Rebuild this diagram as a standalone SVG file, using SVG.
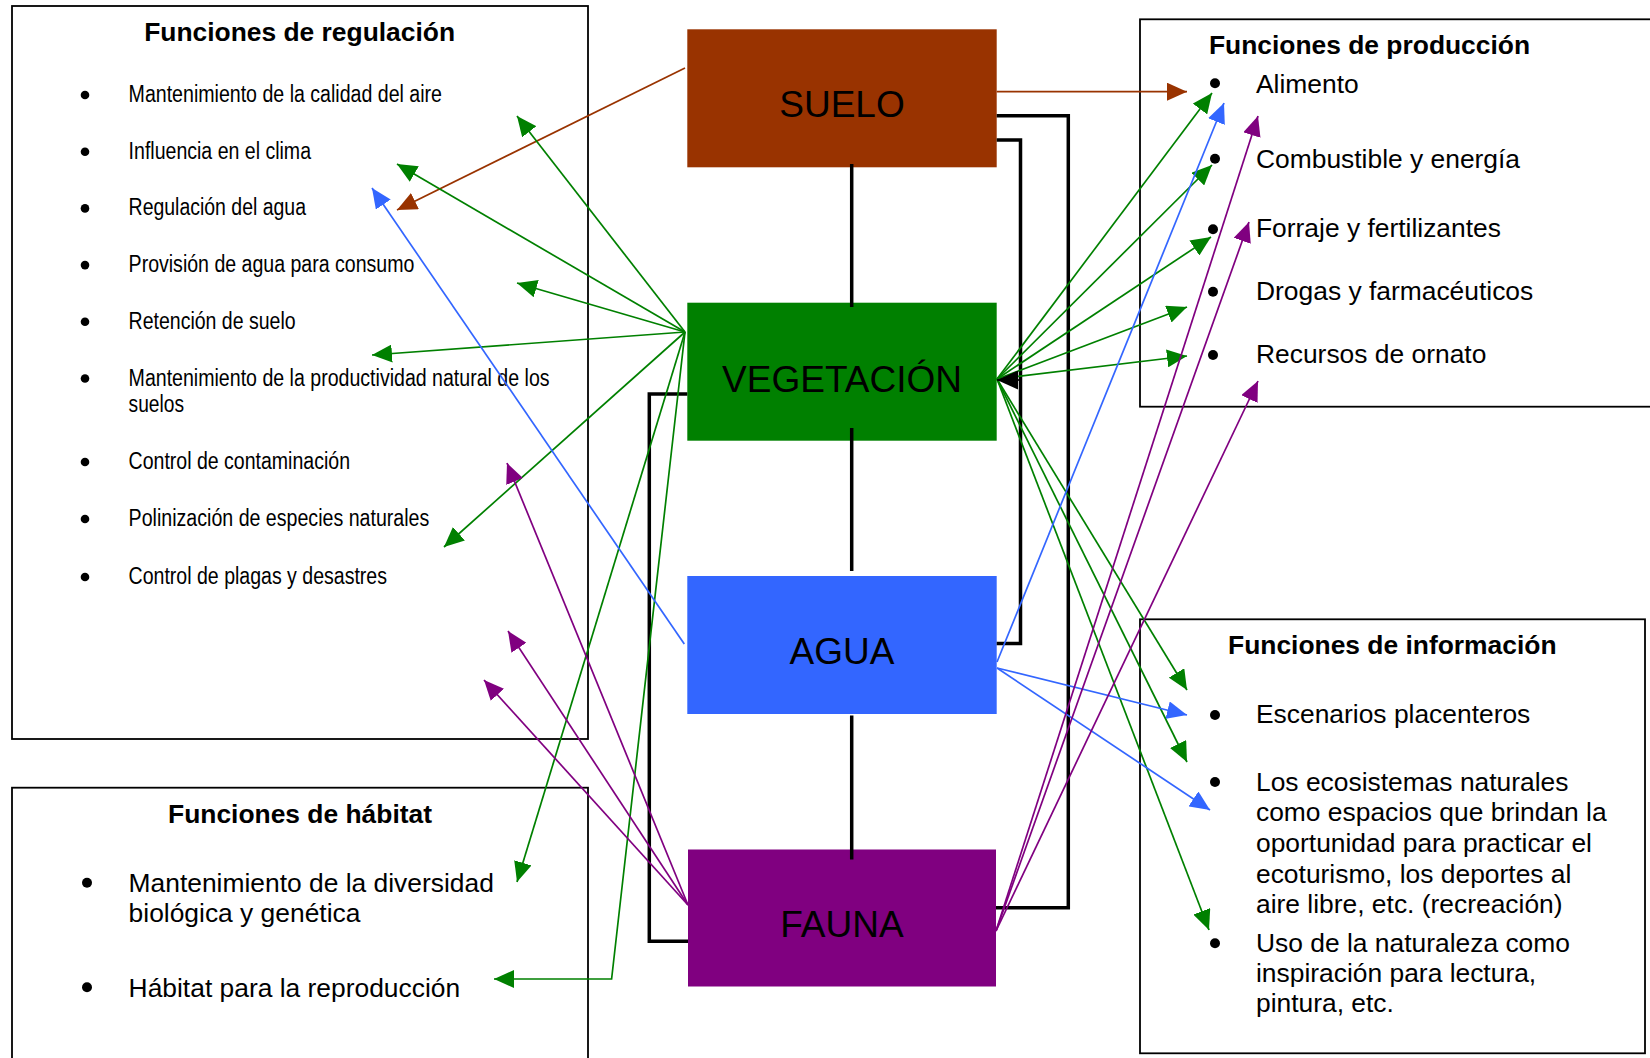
<svg xmlns="http://www.w3.org/2000/svg" width="1650" height="1058" viewBox="0 0 1650 1058">
<style>
.box{fill:#fff;stroke:#000;stroke-width:1.8}
.title{font-family:"Liberation Sans",Arial,sans-serif;font-weight:bold;font-size:26.4px;text-anchor:middle;fill:#000}
.item{font-family:"Liberation Sans",Arial,sans-serif;font-size:26.4px;fill:#000}
.narrow{font-family:"Liberation Sans",Arial,sans-serif;font-size:23.5px;fill:#000}
.lbl{font-family:"Liberation Sans",Arial,sans-serif;font-size:37px;text-anchor:middle;fill:#000}
.blk{fill:none;stroke:#000;stroke-width:3.5}
.br{fill:none;stroke:#993300;stroke-width:1.7;marker-end:url(#ah-br)}
.gr{fill:none;stroke:#008000;stroke-width:1.7;marker-end:url(#ah-gr)}
.bl{fill:none;stroke:#3366FF;stroke-width:1.7;marker-end:url(#ah-bl)}
.pu{fill:none;stroke:#800080;stroke-width:1.7;marker-end:url(#ah-pu)}
</style>
<defs>
<marker id="ah-br" viewBox="0 0 20 18" refX="20" refY="9" markerWidth="20" markerHeight="18" markerUnits="userSpaceOnUse" orient="auto"><path d="M0,0 L20,9 L0,18 z" fill="#993300"/></marker>
<marker id="ah-gr" viewBox="0 0 20 18" refX="20" refY="9" markerWidth="20" markerHeight="18" markerUnits="userSpaceOnUse" orient="auto"><path d="M0,0 L20,9 L0,18 z" fill="#008000"/></marker>
<marker id="ah-bl" viewBox="0 0 20 18" refX="20" refY="9" markerWidth="20" markerHeight="18" markerUnits="userSpaceOnUse" orient="auto"><path d="M0,0 L20,9 L0,18 z" fill="#3366FF"/></marker>
<marker id="ah-pu" viewBox="0 0 20 18" refX="20" refY="9" markerWidth="20" markerHeight="18" markerUnits="userSpaceOnUse" orient="auto"><path d="M0,0 L20,9 L0,18 z" fill="#800080"/></marker>
<marker id="ah-bk" viewBox="0 0 20 18" refX="20" refY="9" markerWidth="21" markerHeight="19" markerUnits="userSpaceOnUse" orient="auto"><path d="M0,0 L20,9 L0,18 z" fill="#000"/></marker>
</defs>
<rect width="1650" height="1058" fill="#fff"/>

<g id="regulacion">
<rect class="box" x="12" y="6" width="576" height="733"/>
<text class="title" x="299.6" y="40.7">Funciones de regulación</text>
<g fill="#000">
<circle cx="85" cy="95" r="4.3"/><circle cx="85" cy="151.7" r="4.3"/><circle cx="85" cy="208.4" r="4.3"/>
<circle cx="85" cy="265.1" r="4.3"/><circle cx="85" cy="321.8" r="4.3"/><circle cx="85" cy="378.5" r="4.3"/>
<circle cx="85" cy="462" r="4.3"/><circle cx="85" cy="519" r="4.3"/><circle cx="85" cy="577" r="4.3"/>
</g>
<text class="narrow" x="128.6" y="102" textLength="313.4" lengthAdjust="spacingAndGlyphs">Mantenimiento de la calidad del aire</text>
<text class="narrow" x="128.6" y="158.7" textLength="182.4" lengthAdjust="spacingAndGlyphs">Influencia en el clima</text>
<text class="narrow" x="128.6" y="215.4" textLength="177.4" lengthAdjust="spacingAndGlyphs">Regulación del agua</text>
<text class="narrow" x="128.6" y="272.1" textLength="285.7" lengthAdjust="spacingAndGlyphs">Provisión de agua para consumo</text>
<text class="narrow" x="128.6" y="328.8" textLength="167" lengthAdjust="spacingAndGlyphs">Retención de suelo</text>
<text class="narrow" x="128.6" y="385.5" textLength="421" lengthAdjust="spacingAndGlyphs">Mantenimiento de la productividad natural de los</text>
<text class="narrow" x="128.6" y="412" textLength="55.4" lengthAdjust="spacingAndGlyphs">suelos</text>
<text class="narrow" x="128.6" y="469" textLength="221.4" lengthAdjust="spacingAndGlyphs">Control de contaminación</text>
<text class="narrow" x="128.6" y="526" textLength="300.7" lengthAdjust="spacingAndGlyphs">Polinización de especies naturales</text>
<text class="narrow" x="128.6" y="584" textLength="258.4" lengthAdjust="spacingAndGlyphs">Control de plagas y desastres</text>
</g>

<g id="habitat">
<rect class="box" x="12" y="787.7" width="576" height="290"/>
<text class="title" x="300" y="822.7">Funciones de hábitat</text>
<circle cx="87" cy="882.7" r="5"/>
<circle cx="87" cy="987.3" r="5"/>
<text class="item" x="128.6" y="891.7">Mantenimiento de la diversidad</text>
<text class="item" x="128.6" y="921.7">biológica y genética</text>
<text class="item" x="128.6" y="996.7">Hábitat para la reproducción</text>
</g>

<g id="produccion">
<rect class="box" x="1140" y="19.3" width="520" height="387.4"/>
<text class="title" x="1369.5" y="54.3">Funciones de producción</text>
<circle cx="1215" cy="83.3" r="5"/>
<circle cx="1215" cy="158.7" r="5"/>
<circle cx="1213" cy="229.3" r="5"/>
<circle cx="1213" cy="291.7" r="5"/>
<circle cx="1213" cy="355" r="5"/>
<text class="item" x="1256" y="92.7">Alimento</text>
<text class="item" x="1256" y="168.3">Combustible y energía</text>
<text class="item" x="1256" y="236.7">Forraje y fertilizantes</text>
<text class="item" x="1256" y="300">Drogas y farmacéuticos</text>
<text class="item" x="1256" y="362.7">Recursos de ornato</text>
</g>

<g id="informacion">
<rect class="box" x="1140" y="619.3" width="505" height="434"/>
<text class="title" x="1392.3" y="654">Funciones de información</text>
<circle cx="1215" cy="715" r="5"/>
<circle cx="1215" cy="782" r="5"/>
<circle cx="1215" cy="943.3" r="5"/>
<text class="item" x="1256" y="723.3">Escenarios placenteros</text>
<text class="item" x="1256" y="790.7">Los ecosistemas naturales</text>
<text class="item" x="1256" y="821.3">como espacios que brindan la</text>
<text class="item" x="1256" y="851.9">oportunidad para practicar el</text>
<text class="item" x="1256" y="882.5">ecoturismo, los deportes al</text>
<text class="item" x="1256" y="913.1">aire libre, etc. (recreación)</text>
<text class="item" x="1256" y="951.7">Uso de la naturaleza como</text>
<text class="item" x="1256" y="981.7">inspiración para lectura,</text>
<text class="item" x="1256" y="1011.7">pintura, etc.</text>
</g>

<g id="suelo">
<rect x="687.3" y="29.3" width="309.4" height="138" fill="#993300"/>
<text class="lbl" x="842" y="117.3">SUELO</text>
</g>
<g id="vegetacion">
<rect x="687.3" y="302.7" width="309.4" height="138" fill="#008000"/>
<text class="lbl" x="842" y="391.7">VEGETACIÓN</text>
</g>
<g id="agua">
<rect x="687.3" y="576" width="309.4" height="138" fill="#3366FF"/>
<text class="lbl" x="842" y="664.4">AGUA</text>
</g>
<g id="fauna">
<rect x="688" y="849.5" width="308" height="137" fill="#800080"/>
<text class="lbl" x="842" y="937">FAUNA</text>
</g>

<g id="connectors">
<path class="blk" d="M851.7,164 V307"/>
<path class="blk" d="M851.7,428 V571"/>
<path class="blk" d="M851.7,715.6 V859.5"/>
<path class="blk" d="M996.7,140 H1020.5 V643.4 H996.7"/>
<path class="blk" d="M996.7,115.7 H1068.3 V907.8 H996"/>
<path class="blk" d="M687.3,394 H649.3 V941.3 H688"/>

<path class="br" d="M685,68 L397,210"/>
<path class="br" d="M996.7,91.7 L1187,91.7"/>

<path class="gr" d="M685,332 L517,116"/>
<path class="gr" d="M685,332 L397,164"/>
<path class="gr" d="M685,332 L517,283"/>
<path class="gr" d="M685,332 L372,355"/>
<path class="gr" d="M685,332 L444,547"/>
<path class="gr" d="M685,332 L517,882"/>
<path class="gr" d="M685,332 L611.6,979 L494,979"/>
<path class="gr" d="M997,379 L1212,93"/>
<path class="gr" d="M997,379 L1212,165"/>
<path class="gr" d="M997,379 L1211,237"/>
<path class="gr" d="M997,379 L1187,307"/>
<path class="gr" d="M997,379 L1187,356"/>
<path class="gr" d="M997,379 L1187,690"/>
<path class="gr" d="M997,379 L1187,762"/>
<path class="gr" d="M997,379 L1209,930"/>

<path class="bl" d="M684.3,644 L372,188"/>
<path class="bl" d="M997,662 L1224,103"/>
<path class="bl" d="M997,668 L1187,715"/>
<path class="bl" d="M997,668 L1210,810"/>

<path class="pu" d="M688,905 L507,463"/>
<path class="pu" d="M688,905 L508,631"/>
<path class="pu" d="M688,905 L484,680"/>
<path class="pu" d="M996,931 L1258,116"/>
<path class="pu" d="M996,931 L1249,222"/>
<path class="pu" d="M996,931 L1258,381"/>

<path d="M1019,380 H997" fill="none" stroke="#000" stroke-width="1.7" marker-end="url(#ah-bk)"/>
</g>
</svg>
